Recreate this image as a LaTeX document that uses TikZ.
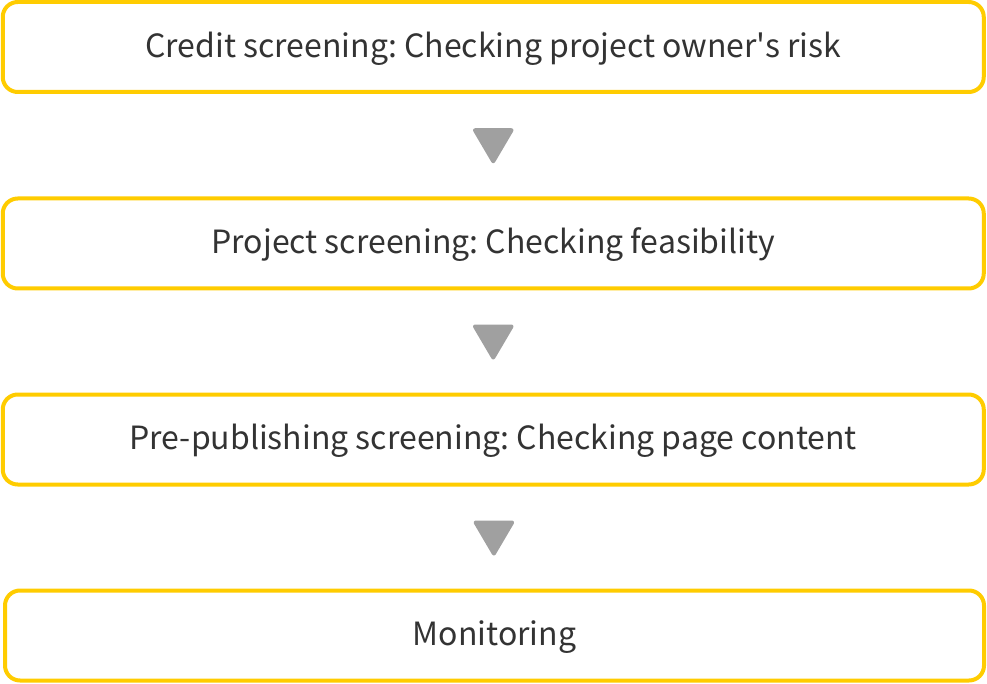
\documentclass[tikz,border=0pt]{standalone}
\usepackage{fontspec}
\setmainfont[Ligatures={TeXOff,NoCommon}]{Noto Sans CJK SC}
\definecolor{boxyellow}{RGB}{255,204,0}
\definecolor{txtgray}{RGB}{51,51,51}
\definecolor{trigray}{RGB}{160,160,160}
\frenchspacing
\begin{document}
\begin{tikzpicture}[x=1pt,y=-1pt,
  stagebox/.style={draw=boxyellow,line width=4pt,rounded corners=15pt,fill=white,
    minimum width=981pt,minimum height=90pt,inner sep=0pt},
  lbl/.style={text=txtgray,font=\fontsize{32}{36}\selectfont,inner sep=0pt},
  downtri/.style={fill=trigray,draw=trigray,line width=2pt,line join=round,rounded corners=2pt}]
\useasboundingbox (0,0) rectangle (987,684);
\node[stagebox] (b1) at (493.25,47) {};
\node[stagebox] (b2) at (493.25,243.5) {};
\node[stagebox] (b3) at (493.25,439.5) {};
\node[stagebox,minimum width=979pt] (b4) at (494.5,635.5) {};
\node[lbl] (t1) at ([yshift=-1.5pt]b1.center) {Credit screening: Checking project owner's risk};
\node[lbl] (t2) at ([yshift=-1.5pt]b2.center) {Project screening: Checking feasibility};
\node[lbl] (t3) at ([yshift=-1.5pt]b3.center) {Pre-publishing screening: Checking page content};
\node[lbl] (t4) at ([yshift=-1.5pt]b4.center) {Monitoring};
\foreach \a/\b in {b1/b2,b2/b3,b3/b4}{
  \path (\a.south) -- (\b.north) coordinate[pos=0.5] (m\a);
  \fill[downtri] ([shift={(-20,-16)}]m\a) -- ([shift={(20,-16)}]m\a) -- ([shift={(0,18)}]m\a) -- cycle;
}
\end{tikzpicture}
\end{document}
